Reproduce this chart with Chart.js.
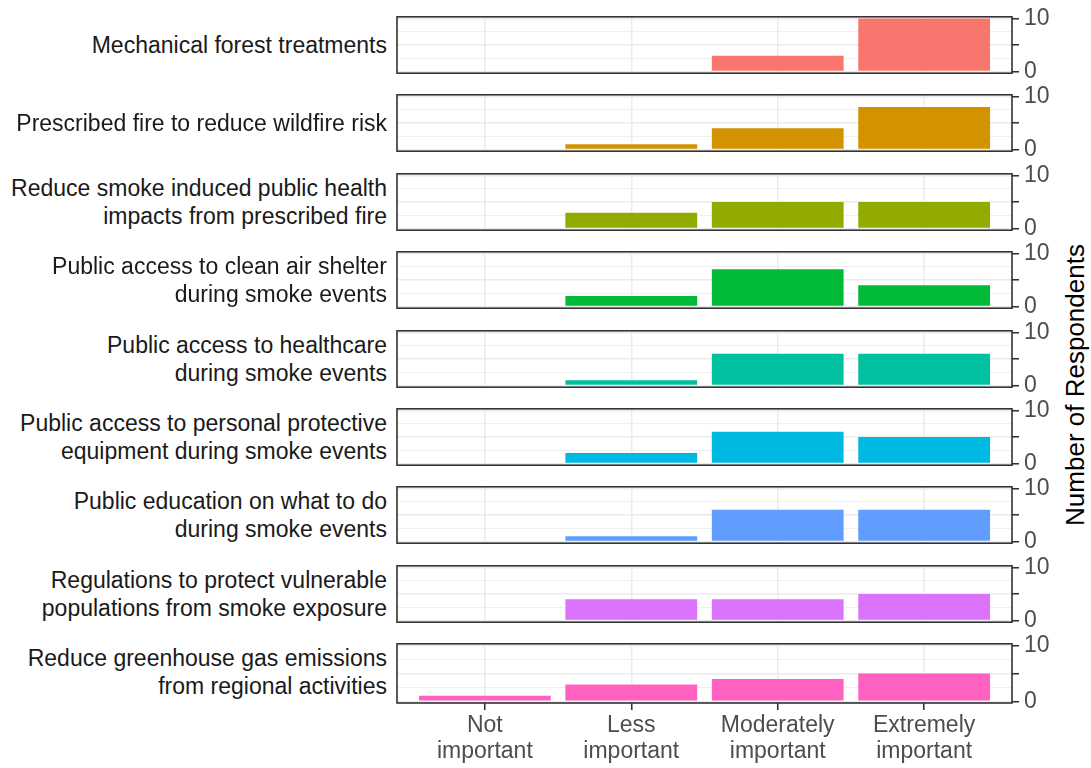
<!DOCTYPE html>
<html>
<head>
<meta charset="utf-8">
<title>Number of Respondents by importance</title>
<script src="https://cdn.jsdelivr.net/npm/chart.js@4.4.0/dist/chart.umd.min.js"></script>
<style>
    html, body { margin: 0; padding: 0; background: #fff; }
    body {
        position: relative;
        width: 1091px;
        height: 768px;
        overflow: hidden;
        font-family: "Liberation Sans", Arial, sans-serif;
    }
    .panel { position: absolute; }
    .facet-label {
        position: absolute;
        right: 704px;
        text-align: right;
        font-size: 23px;
        line-height: 28px;
        color: #1a1a1a;
        white-space: nowrap;
        transform: translateY(-50%);
    }
    .y-title {
        position: absolute;
        left: 1075px;
        top: 385px;
        font-size: 26px;
        color: #000;
        white-space: nowrap;
        transform: translate(-50%, -50%) rotate(-90deg);
    }
</style>
</head>
<body>
<div class="y-title">Number of Respondents</div>
<script>
// Categories on the x axis (shared by every facet)
const categories = ['Not important', 'Less important', 'Moderately important', 'Extremely important'];
const categoryLines = [['Not', 'important'], ['Less', 'important'], ['Moderately', 'important'], ['Extremely', 'important']];

// Facet labels, top to bottom
const facetLabels = [
    ['Mechanical forest treatments'],
    ['Prescribed fire to reduce wildfire risk'],
    ['Reduce smoke induced public health', 'impacts from prescribed fire'],
    ['Public access to clean air shelter', 'during smoke events'],
    ['Public access to healthcare', 'during smoke events'],
    ['Public access to personal protective', 'equipment during smoke events'],
    ['Public education on what to do', 'during smoke events'],
    ['Regulations to protect vulnerable', 'populations from smoke exposure'],
    ['Reduce greenhouse gas emissions', 'from regional activities']
];

// Respondent counts per facet (Not / Less / Moderately / Extremely)
const mechanicalTreatments = [0, 0, 3, 10];
const prescribedFire = [0, 1, 4, 8];
const smokeHealthImpacts = [0, 3, 5, 5];
const cleanAirShelter = [0, 2, 7, 4];
const healthcareAccess = [0, 1, 6, 6];
const protectiveEquipment = [0, 2, 6, 5];
const publicEducation = [0, 1, 6, 6];
const vulnerableRegulations = [0, 4, 4, 5];
const greenhouseEmissions = [1, 3, 4, 5];

const facetValues = [
    mechanicalTreatments, prescribedFire, smokeHealthImpacts, cleanAirShelter,
    healthcareAccess, protectiveEquipment, publicEducation, vulnerableRegulations,
    greenhouseEmissions
];

const facetColors = ['#F8766D', '#D39200', '#93AA00', '#00BA38', '#00C19F', '#00B9E3', '#619CFF', '#DB72FB', '#FF61C3'];

// y axis ticks (only 0 and 10 are labelled, 2.5 / 7.5 are minor grid)
const yTicks = [0, 2.5, 5, 7.5, 10];
const yTickLabels = { 0: '0', 10: '10' };

// layout of the panels
const PANEL_LEFT = 397;
const PANEL_WIDTH = 615;
const PANEL_HEIGHT = 62;
const FIRST_TOP = 14;
const PANEL_STEP = 78.4;
const PAD_LEFT = 10;
const PAD_TOP = 16;
const PAD_BOTTOM = 16;
const Y_AXIS_W = 70;
const X_AXIS_H = 60;

const FONT = '"Liberation Sans", Arial, sans-serif';

// draws the dark border around every panel, on top of the bars
const panelBorder = {
    id: 'panelBorder',
    afterDatasetsDraw(chart) {
        const { ctx, chartArea: a } = chart;
        ctx.save();
        ctx.strokeStyle = '#333333';
        ctx.lineWidth = 1.6;
        ctx.strokeRect(a.left, a.top, a.width, a.height);
        ctx.restore();
    }
};

function buildPanel(i) {
    const isLast = i === facetValues.length - 1;
    const top = Math.round(FIRST_TOP + PANEL_STEP * i);

    const wrap = document.createElement('div');
    wrap.className = 'panel';
    wrap.style.left = (PANEL_LEFT - PAD_LEFT) + 'px';
    wrap.style.top = (top - PAD_TOP) + 'px';
    wrap.style.width = (PANEL_WIDTH + PAD_LEFT + Y_AXIS_W) + 'px';
    wrap.style.height = (PANEL_HEIGHT + PAD_TOP + (isLast ? X_AXIS_H : PAD_BOTTOM)) + 'px';
    const canvas = document.createElement('canvas');
    wrap.appendChild(canvas);
    document.body.appendChild(wrap);

    const label = document.createElement('div');
    label.className = 'facet-label';
    label.style.top = (top + PANEL_HEIGHT / 2) + 'px';
    label.innerHTML = facetLabels[i].join('<br>');
    document.body.appendChild(label);

    new Chart(canvas, {
        type: 'bar',
        data: {
            datasets: [{
                data: facetValues[i].map((v, j) => ({ x: j + 1, y: v })),
                backgroundColor: facetColors[i],
                borderWidth: 0,
                categoryPercentage: 0.9,
                barPercentage: 1.0
            }]
        },
        options: {
            responsive: true,
            maintainAspectRatio: false,
            animation: false,
            layout: {
                padding: { left: PAD_LEFT, top: PAD_TOP, right: 0, bottom: isLast ? 0 : PAD_BOTTOM }
            },
            plugins: {
                legend: { display: false },
                tooltip: { enabled: false }
            },
            scales: {
                x: {
                    type: 'linear',
                    min: 0.4,
                    max: 4.6,
                    offset: false,
                    afterBuildTicks: scale => {
                        scale.ticks = categories.map((c, j) => ({ value: j + 1 }));
                    },
                    afterFit: scale => { scale.height = isLast ? X_AXIS_H : 0; },
                    border: { display: false },
                    grid: {
                        offset: false,
                        color: '#EBEBEB',
                        lineWidth: 1.5,
                        drawTicks: isLast,
                        tickLength: 7,
                        tickColor: '#333333',
                        tickWidth: 1.6
                    },
                    ticks: {
                        display: isLast,
                        autoSkip: false,
                        maxRotation: 0,
                        padding: 3,
                        color: '#4D4D4D',
                        font: { family: FONT, size: 23, lineHeight: 1.13 },
                        callback: value => categoryLines[value - 1]
                    }
                },
                y: {
                    position: 'right',
                    min: -0.3,
                    max: 10.3,
                    afterBuildTicks: scale => {
                        scale.ticks = yTicks.map(v => ({ value: v }));
                    },
                    afterFit: scale => { scale.width = Y_AXIS_W; },
                    border: { display: false },
                    grid: {
                        color: '#EBEBEB',
                        lineWidth: ctx => (ctx.tick && ctx.tick.value % 5 === 0) ? 1.5 : 0.8,
                        tickLength: 7,
                        tickWidth: 1.6,
                        tickColor: ctx => (ctx.tick && ctx.tick.value % 5 === 0) ? '#333333' : 'rgba(0,0,0,0)'
                    },
                    ticks: {
                        autoSkip: false,
                        padding: 5,
                        color: '#4D4D4D',
                        font: { family: FONT, size: 23 },
                        callback: value => yTickLabels[value] || ''
                    }
                }
            }
        },
        plugins: [panelBorder]
    });
}

facetValues.forEach((v, i) => buildPanel(i));
</script>
</body>
</html>
